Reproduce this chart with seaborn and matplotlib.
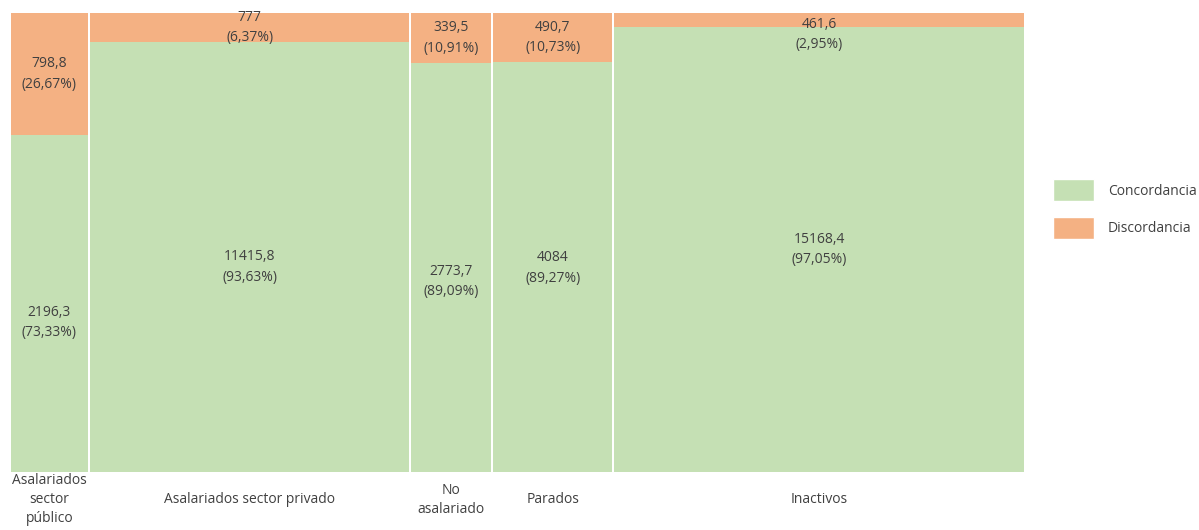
import numpy as np
import pandas as pd
import seaborn as sns
import matplotlib.pyplot as plt
from matplotlib.patches import Patch

# Data (thousands)
categories = ['Asalariados\nsector\npúblico', 'Asalariados sector privado',
              'No\nasalariado', 'Parados', 'Inactivos']
concordancia = [2196.3, 11415.8, 2773.7, 4084, 15168.4]
discordancia = [798.8, 777, 339.5, 490.7, 461.6]

# small vertical nudges (pixels, negative = down) for the green labels,
# the original tool did not place them exactly at the segment centre
conc_nudge = [-19, -10, -14, -1, 0]

df = pd.DataFrame({'categoria': categories,
                   'Concordancia': concordancia,
                   'Discordancia': discordancia})
df['total'] = df['Concordancia'] + df['Discordancia']
df['p_conc'] = df['Concordancia'] / df['total']
df['p_disc'] = df['Discordancia'] / df['total']
df['left'] = df['total'].cumsum() - df['total']

sns.set_theme(style='white')
plt.rcParams['font.family'] = ['Open Sans', 'DejaVu Sans']
green, orange = '#C5E0B4', '#F4B183'
txt = '#404040'
fs = 10


def fmt_num(v):
    if float(v).is_integer():
        return str(int(v))
    return f'{v:.1f}'.replace('.', ',')


def fmt_pct(p):
    return f'({p * 100:.2f}%)'.replace('.', ',')


fig = plt.figure(figsize=(11.99, 5.30), dpi=100)
ax = fig.add_axes([10 / 1199, 58 / 530, 1015 / 1199, 459 / 530])

grand = df['total'].sum()
gap = grand / 1015 * 2  # ~2px white gap between columns

for i, r in df.iterrows():
    x0 = r['left'] + gap / 2
    w = r['total'] - gap
    ax.bar(x0, r['p_conc'], width=w, align='edge', color=green, linewidth=0)
    ax.bar(x0, r['p_disc'], width=w, bottom=r['p_conc'], align='edge',
           color=orange, linewidth=0)
    cx = r['left'] + r['total'] / 2
    ax.annotate(f"{fmt_num(r['Concordancia'])}\n{fmt_pct(r['p_conc'])}",
                xy=(cx, r['p_conc'] / 2), xytext=(0, conc_nudge[i]),
                textcoords='offset pixels', ha='center', va='center',
                fontsize=fs, color=txt, linespacing=1.5)
    yd = r['p_conc'] + r['p_disc'] / 2
    if r['p_disc'] < 0.04:
        yd = 1 - 0.047
    ax.text(cx, yd,
            f"{fmt_num(r['Discordancia'])}\n{fmt_pct(r['p_disc'])}",
            ha='center', va='center', fontsize=fs, color=txt, linespacing=1.5)

ax.set_xlim(0, grand)
ax.set_ylim(0, 1)
ax.set_xticks(df['left'] + df['total'] / 2)
ax.set_xticklabels(df['categoria'], fontsize=fs, color=txt, linespacing=1.35)
for lab in ax.get_xticklabels():
    lab.set_va('center')
ax.tick_params(axis='x', length=0, pad=20)
ax.set_yticks([])
sns.despine(ax=ax, left=True, bottom=True)

handles = [Patch(facecolor=green, label='Concordancia'),
           Patch(facecolor=orange, label='Discordancia')]
fig.legend(handles=handles, loc='center left', bbox_to_anchor=(1040 / 1199, 1 - 209 / 530),
           frameon=False, fontsize=fs, handlelength=3.0, handleheight=2.1,
           labelspacing=1.1, handletextpad=1.0, labelcolor=txt)

fig.savefig('out.png', dpi=100)
